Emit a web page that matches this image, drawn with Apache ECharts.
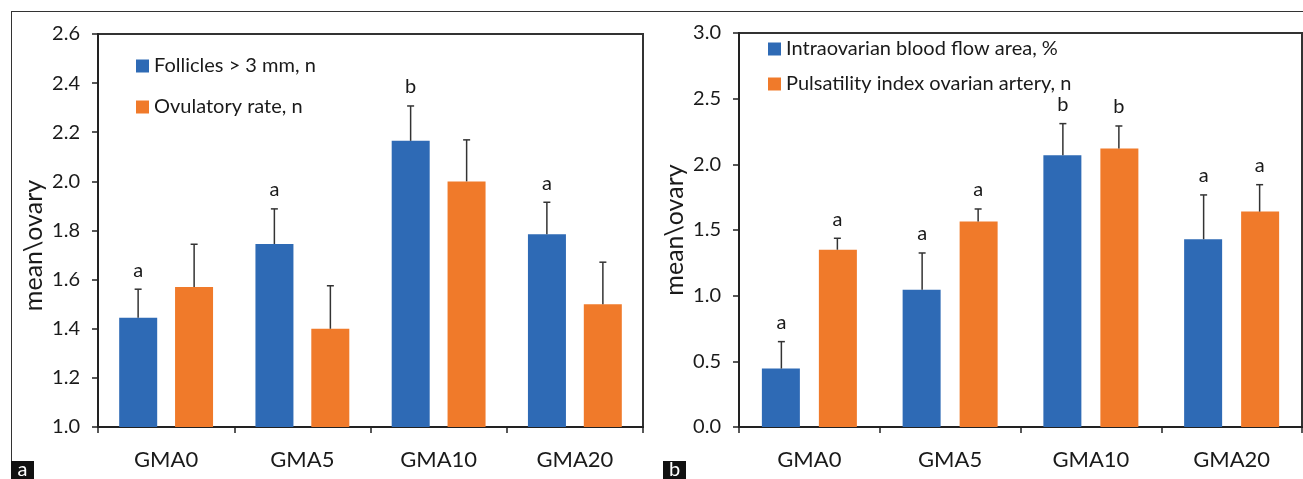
<!DOCTYPE html>
<html><head><meta charset="utf-8">
<script src="https://cdn.jsdelivr.net/npm/echarts@6/dist/echarts.min.js"></script>
<style>html,body{margin:0;padding:0;background:#fff}#c{width:1303px;height:479px}</style>
</head><body><div id="c"></div>
<script>
const categories = ['GMA0', 'GMA5', 'GMA10', 'GMA20'];
// Panel a
const folliclesMean = [1.445, 1.745, 2.165, 1.785];
const folliclesErrTop = [1.561, 1.888, 2.307, 1.915];
const folliclesLetters = ['a', 'a', 'b', 'a'];
const ovulatoryMean = [1.57, 1.40, 2.00, 1.50];
const ovulatoryErrTop = [1.744, 1.575, 2.169, 1.671];
const ovulatoryLetters = ['', '', '', ''];
// Panel b
const bloodFlowMean = [0.445, 1.045, 2.07, 1.43];
const bloodFlowErrTop = [0.65, 1.325, 2.31, 1.767];
const bloodFlowLetters = ['a', 'a', 'b', 'a'];
const pulsatilityMean = [1.35, 1.565, 2.12, 1.64];
const pulsatilityErrTop = [1.437, 1.66, 2.292, 1.845];
const pulsatilityLetters = ['a', 'a', 'b', 'a'];
const yTicksA = {min: 1.0, max: 2.6, interval: 0.2};
const yTicksB = {min: 0.0, max: 3.0, interval: 0.5};

const BLUE = '#2E6AB5';
const ORANGE = '#F07A2A';
const FONT = 'Lato';
const TXT = '#1a1a1a';

function errSeries(gi, vals, tops, letters, side) {
  return {
    type: 'custom', xAxisIndex: gi, yAxisIndex: gi, z: 5,
    data: vals.map((v, i) => [i, v, tops[i]]),
    renderItem: function (params, api) {
      const i = api.value(0);
      const b = api.coord([i, api.value(1)]);
      const t = api.coord([i, api.value(2)]);
      const x = b[0] + side * 28;
      const st = {stroke: '#333', lineWidth: 1.5};
      const ch = [
        {type: 'line', shape: {x1: x, y1: b[1], x2: x, y2: t[1]}, style: st},
        {type: 'line', shape: {x1: x - 3.5, y1: t[1], x2: x + 3.5, y2: t[1]}, style: st}
      ];
      if (letters[i]) ch.push({type: 'text', x: x, y: t[1] - 19,
        style: {text: letters[i], fill: TXT, font: '20px ' + FONT, align: 'center', verticalAlign: 'middle'}});
      return {type: 'group', children: ch};
    }
  };
}

function xAxis(gi) {
  return {
    type: 'category', gridIndex: gi, data: categories,
    axisLine: {lineStyle: {color: '#222', width: 2}},
    axisTick: {show: true, length: 6, lineStyle: {color: '#222', width: 1.5}},
    axisLabel: {color: TXT, fontFamily: FONT, fontSize: 22, margin: 22}
  };
}
function yAxis(gi, t, pad) {
  return {
    type: 'value', gridIndex: gi, min: t.min, max: t.max, interval: t.interval,
    name: 'mean\\ovary', nameLocation: 'middle', nameGap: 52,
    nameTextStyle: {color: TXT, fontFamily: FONT, fontSize: 25, padding: pad},
    splitLine: {show: false},
    axisLine: {show: true, lineStyle: {color: '#222', width: 2}},
    axisTick: {show: true, length: 6, lineStyle: {color: '#222', width: 1.5}},
    axisLabel: {color: TXT, fontFamily: FONT, fontSize: 20, margin: 18, formatter: v => v.toFixed(1)}
  };
}

const chart = echarts.init(document.getElementById('c'), null, {renderer: 'canvas'});
chart.setOption({
  animation: false,
  backgroundColor: '#fff',
  grid: [
    {left: 98, top: 34, right: 660, bottom: 52, show: true, borderColor: '#333', borderWidth: 2, backgroundColor: 'transparent'},
    {left: 739, top: 33, right: 1, bottom: 52, show: true, borderColor: '#333', borderWidth: 2, backgroundColor: 'transparent'}
  ],
  legend: [
    {data: ['Follicles > 3 mm, n', 'Ovulatory rate, n'], orient: 'vertical', left: 136, top: 56, padding: 0,
      icon: 'rect', itemWidth: 13, itemHeight: 13, itemGap: 21,
      textStyle: {color: TXT, fontFamily: FONT, fontSize: 20}},
    {data: ['Intraovarian blood flow area, %', 'Pulsatility index ovarian artery, n'], orient: 'vertical', left: 768, top: 39, padding: 0,
      icon: 'rect', itemWidth: 13, itemHeight: 13, itemGap: 15,
      textStyle: {color: TXT, fontFamily: FONT, fontSize: 20}}
  ],
  xAxis: [xAxis(0), xAxis(1)],
  yAxis: [yAxis(0, yTicksA, [0, 30, 0, 0]), yAxis(1, yTicksB, [0, 0, 0, 0])],
  series: [
    {name: 'Follicles > 3 mm, n', type: 'bar', xAxisIndex: 0, yAxisIndex: 0, data: folliclesMean, barWidth: 38, barGap: '47%', itemStyle: {color: BLUE}},
    {name: 'Ovulatory rate, n', type: 'bar', xAxisIndex: 0, yAxisIndex: 0, data: ovulatoryMean, barWidth: 38, barGap: '47%', itemStyle: {color: ORANGE}},
    {name: 'Intraovarian blood flow area, %', type: 'bar', xAxisIndex: 1, yAxisIndex: 1, data: bloodFlowMean, barWidth: 38, barGap: '50%', itemStyle: {color: BLUE}},
    {name: 'Pulsatility index ovarian artery, n', type: 'bar', xAxisIndex: 1, yAxisIndex: 1, data: pulsatilityMean, barWidth: 38, barGap: '50%', itemStyle: {color: ORANGE}},
    errSeries(0, folliclesMean, folliclesErrTop, folliclesLetters, -1),
    errSeries(0, ovulatoryMean, ovulatoryErrTop, ovulatoryLetters, 1),
    errSeries(1, bloodFlowMean, bloodFlowErrTop, bloodFlowLetters, -1),
    errSeries(1, pulsatilityMean, pulsatilityErrTop, pulsatilityLetters, 1)
  ],
  graphic: [
    {type: 'line', shape: {x1: 11, y1: 11.5, x2: 1303, y2: 11.5}, style: {stroke: '#333', lineWidth: 1}},
    {type: 'line', shape: {x1: 11.5, y1: 11, x2: 11.5, y2: 479}, style: {stroke: '#333', lineWidth: 1}},
    {type: 'rect', shape: {x: 11, y: 461, width: 23, height: 18}, style: {fill: '#111'}},
    {type: 'text', x: 22.5, y: 470, style: {text: 'a', fill: '#fff', font: '20px ' + FONT, align: 'center', verticalAlign: 'middle'}},
    {type: 'rect', shape: {x: 663, y: 461, width: 23, height: 18}, style: {fill: '#111'}},
    {type: 'text', x: 674.5, y: 470, style: {text: 'b', fill: '#fff', font: '20px ' + FONT, align: 'center', verticalAlign: 'middle'}}
  ]
});
</script></body></html>
